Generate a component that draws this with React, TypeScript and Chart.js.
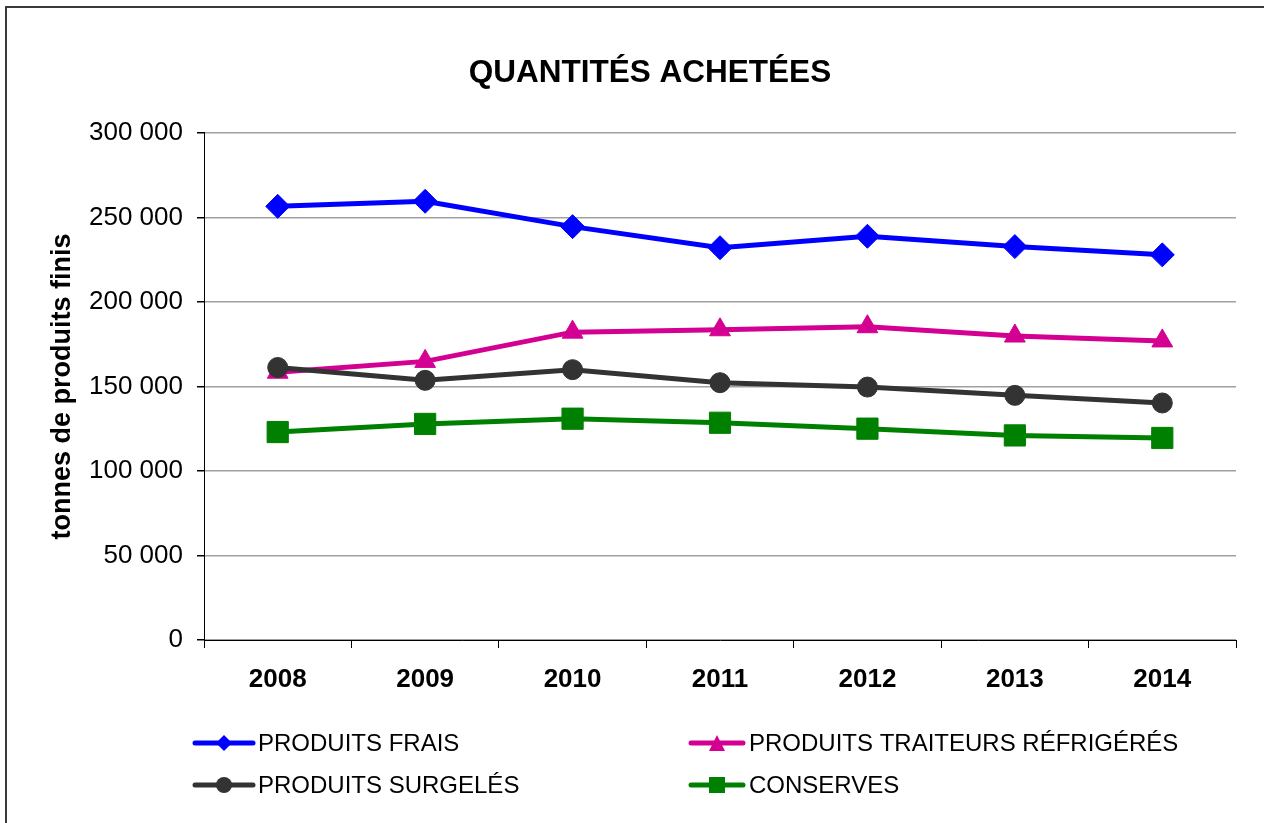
import React, { useEffect, useRef } from 'react';
import { Chart, registerables } from 'chart.js';

Chart.register(...registerables);

const years = ['2008', '2009', '2010', '2011', '2012', '2013', '2014'];
const produitsFrais = [256500, 259500, 244500, 232000, 238800, 232700, 227800];
const produitsTraiteurs = [158400, 164800, 182100, 183500, 185300, 179800, 176900];
const produitsSurgeles = [161200, 153600, 159900, 152200, 149600, 144700, 140200];
const conserves = [123000, 127800, 130900, 128500, 125000, 121000, 119500];
const seriesLabels = ['PRODUITS FRAIS', 'PRODUITS TRAITEURS RÉFRIGÉRÉS', 'PRODUITS SURGELÉS', 'CONSERVES'];
const yMin = 0;
const yMax = 300000;
const yStep = 50000;

const FONT = "'Liberation Sans', Arial, sans-serif";

const fmt = (v: number) => String(v).replace(/\B(?=(\d{3})+(?!\d))/g, ' ');

function drawMarker(ctx: CanvasRenderingContext2D, style: string, x: number, y: number, size: number, color: string) {
  ctx.save();
  ctx.fillStyle = color;
  ctx.beginPath();
  const h = size / 2;
  if (style === 'rectRot') {
    ctx.moveTo(x, y - h);
    ctx.lineTo(x + h, y);
    ctx.lineTo(x, y + h);
    ctx.lineTo(x - h, y);
    ctx.closePath();
  } else if (style === 'triangle') {
    ctx.moveTo(x, y - h);
    ctx.lineTo(x + h, y + h);
    ctx.lineTo(x - h, y + h);
    ctx.closePath();
  } else if (style === 'circle') {
    ctx.arc(x, y, h, 0, Math.PI * 2);
  } else {
    ctx.rect(x - h, y - h, size, size);
  }
  ctx.fill();
  ctx.restore();
}

const legendPlugin = {
  id: 'bottomLegend',
  afterDraw(chart: any) {
    const ctx: CanvasRenderingContext2D = chart.ctx;
    const cols = [
      { x0: 195, x1: 253, tx: 258 },
      { x0: 691, x1: 743, tx: 749 },
    ];
    const rows = [743, 785];
    chart.data.datasets.forEach((ds: any, i: number) => {
      const c = cols[i % 2];
      const y = rows[Math.floor(i / 2)];
      ctx.save();
      ctx.strokeStyle = ds.borderColor;
      ctx.lineWidth = 5;
      ctx.lineCap = 'round';
      ctx.beginPath();
      ctx.moveTo(c.x0, y);
      ctx.lineTo(c.x1, y);
      ctx.stroke();
      drawMarker(ctx, ds.pointStyle, (c.x0 + c.x1) / 2, y, 16, ds.borderColor);
      ctx.fillStyle = '#000';
      ctx.font = `24px ${FONT}`;
      ctx.textBaseline = 'middle';
      ctx.textAlign = 'left';
      ctx.fillText(ds.label, c.tx, y + 1);
      ctx.restore();
    });
  },
};

export default function App() {
  const canvasRef = useRef<HTMLCanvasElement | null>(null);

  useEffect(() => {
    if (!canvasRef.current) return;
    const mk = (label: string, data: number[], color: string, style: string, radius: number, order: number) => ({
      label,
      data,
      borderColor: color,
      backgroundColor: color,
      pointBackgroundColor: color,
      pointBorderColor: color,
      pointBorderWidth: 1,
      pointStyle: style,
      pointRadius: radius,
      borderWidth: 5,
      tension: 0,
      order,
      yAxisID: 'y',
    });
    const chart = new Chart(canvasRef.current, {
      type: 'line',
      data: {
        labels: years,
        datasets: [
          mk(seriesLabels[0], produitsFrais, '#0000FF', 'rectRot', 12, 4),
          mk(seriesLabels[1], produitsTraiteurs, '#D40092', 'triangle', 12, 3),
          mk(seriesLabels[2], produitsSurgeles, '#333333', 'circle', 10, 2),
          mk(seriesLabels[3], conserves, '#008000', 'rect', 15, 1),
        ],
      },
      options: {
        animation: false,
        responsive: false,
        maintainAspectRatio: false,
        devicePixelRatio: 1,
        layout: { padding: { top: 0, left: 36, right: 0, bottom: 0 } },
        plugins: {
          legend: { display: false },
          tooltip: { enabled: false },
          title: {
            display: true,
            text: 'QUANTITÉS ACHETÉES',
            color: '#000',
            font: { family: FONT, size: 31.5, weight: 'bold' },
            padding: { top: 54, bottom: 41 },
          },
        },
        scales: {
          x: {
            type: 'category',
            offset: true,
            grid: {
              offset: true,
              drawOnChartArea: false,
              drawTicks: true,
              tickLength: 8,
              tickColor: '#000',
              color: '#000',
            },
            border: { display: true, color: '#000', width: 1 },
            ticks: {
              color: '#000',
              padding: 16,
              font: { family: FONT, size: 26, weight: 'bold' },
              maxRotation: 0,
            },
            afterFit: (scale: any) => {
              scale.height = 183;
            },
          },
          y: {
            position: 'left',
            min: yMin,
            max: yMax,
            grid: {
              color: '#a0a0a0',
              lineWidth: 1.5,
              tickLength: 7,
              tickColor: '#000',
            },
            border: { display: true, color: '#000', width: 1 },
            ticks: {
              stepSize: yStep,
              color: '#000',
              padding: 14,
              font: { family: FONT, size: 26 },
              callback: (v: any) => fmt(Number(v)),
            },
            title: {
              display: true,
              text: 'tonnes de produits finis',
              color: '#000',
              font: { family: FONT, size: 27, weight: 'bold' },
              padding: { top: 10, bottom: 0 },
            },
            afterFit: (scale: any) => {
              scale.width = 168;
            },
          },
          spacer: {
            type: 'linear',
            position: 'right',
            display: true,
            grid: { display: false, drawOnChartArea: false, drawTicks: false },
            border: { display: false },
            ticks: { display: false },
            afterFit: (scale: any) => {
              scale.width = 28;
            },
          },
        },
      },
      plugins: [legendPlugin],
    } as any);
    return () => chart.destroy();
  }, []);

  return (
    <div
      style={{
        position: 'fixed',
        left: 0,
        top: 0,
        width: 1264,
        height: 823,
        overflow: 'hidden',
        background: '#fff',
      }}
    >
      <div
        style={{
          position: 'absolute',
          left: 5,
          top: 6,
          width: 1400,
          height: 1000,
          border: '2px solid #3a3a3a',
          boxSizing: 'border-box',
        }}
      />
      <canvas
        ref={canvasRef}
        width={1264}
        height={823}
        style={{ position: 'absolute', left: 0, top: 0, width: 1264, height: 823 }}
      />
    </div>
  );
}
